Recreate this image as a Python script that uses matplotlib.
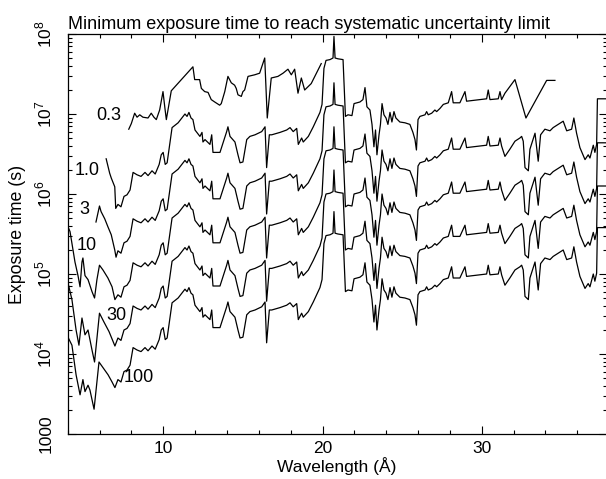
import matplotlib
matplotlib.use("Agg")
import matplotlib.pyplot as plt
import numpy as np
from matplotlib.ticker import MultipleLocator, LogLocator, NullFormatter

plt.rcParams["font.family"] = ["Liberation Sans", "DejaVu Sans"]
plt.rcParams["mathtext.fontset"] = "custom"
plt.rcParams["mathtext.rm"] = "Liberation Sans"
plt.rcParams["font.size"] = 12.5

# Profile shared by the lower curves, given for the "100" curve: log10(exposure time / s)
base_wave = [7.15, 7.34, 7.53, 7.72, 7.91, 8.10, 8.35, 8.60, 8.85, 9.04, 9.29, 9.49, 9.74,
             9.87, 9.99, 10.12, 10.24, 10.55, 10.93, 11.24, 11.36, 11.49, 11.61, 11.74, 11.86,
             11.99, 12.30, 12.43, 12.49, 12.62, 12.93, 13.04, 13.12, 13.56, 13.98, 14.06, 14.19,
             14.50, 14.69, 14.82, 15.00, 15.24, 15.44, 15.76, 16.18, 16.39, 16.49, 16.66, 16.81,
             17.33, 17.75, 17.96, 18.16, 18.38, 18.48, 18.69, 18.79, 19.11, 19.42, 19.84, 19.97,
             20.09, 20.22, 20.47, 20.66, 20.72, 20.79, 20.97, 21.29, 21.44, 21.60, 21.85, 21.98,
             22.35, 22.54, 22.67, 22.79, 22.98, 23.11, 23.23, 23.33, 23.42, 23.55, 23.64, 23.74,
             23.86, 23.99, 24.11, 24.24, 24.36, 24.49, 24.61, 24.86, 25.18, 25.49, 25.68, 25.81,
             25.90, 26.00, 26.12, 26.44, 26.54, 26.64, 26.86, 27.06, 27.17, 27.38, 27.59, 27.90,
             28.11, 28.21, 28.63, 28.95, 29.05, 29.47, 30.31, 30.41, 30.52, 31.04, 31.15, 31.25,
             31.46, 31.77, 32.09, 32.40, 32.51, 32.61, 32.72, 32.93, 33.03, 33.35, 33.55, 33.70,
             33.97, 34.29, 34.49, 35.12, 35.34, 35.65, 35.79, 35.96, 36.17, 36.49, 36.69, 36.80,
             37.01, 37.11, 37.22, 37.27, 37.84]
base_logt = [3.68, 3.65, 3.78, 3.80, 3.86, 4.08, 4.05, 4.03, 4.08, 4.04, 4.10, 4.06, 4.18,
             4.30, 4.33, 4.18, 4.20, 4.64, 4.70, 4.78, 4.81, 4.78, 4.83, 4.76, 4.74,
             4.61, 4.53, 4.58, 4.46, 4.49, 4.43, 4.55, 4.33, 4.33, 4.59, 4.65, 4.53,
             4.46, 4.30, 4.20, 4.21, 4.49, 4.53, 4.55, 4.59, 4.65, 4.14, 4.55, 4.55,
             4.58, 4.61, 4.64, 4.59, 4.63, 4.43, 4.51, 4.46, 4.53, 4.65, 4.83, 4.93,
             5.38, 5.48, 5.49, 5.51, 5.78, 5.51, 5.50, 5.49, 4.78, 4.80, 4.79, 4.94,
             4.96, 4.99, 5.14, 4.90, 4.86, 4.68, 4.40, 4.61, 4.30, 4.55, 4.68, 4.94,
             4.80, 4.76, 4.68, 4.83, 4.71, 4.84, 4.76, 4.71, 4.70, 4.68, 4.58, 4.49,
             4.36, 4.74, 4.78, 4.80, 4.84, 4.80, 4.82, 4.86, 4.84, 4.88, 4.93, 4.95,
             5.09, 4.95, 4.95, 5.09, 4.97, 4.98, 5.00, 5.11, 4.99, 5.00, 5.09, 4.99,
             4.86, 4.95, 5.05, 5.09, 5.11, 5.05, 4.72, 4.68, 4.95, 5.15, 4.80, 5.13,
             5.20, 5.18, 5.22, 5.30, 5.18, 5.20, 5.34, 5.15, 4.97, 4.82, 4.88, 4.84,
             5.00, 4.91, 5.01, 5.58, 5.58]

curve_labels = ["0.3", "1.0", "3", "10", "30", "100"]
# shift of each lower curve above the "100" curve, decades
curve_shift = {"1.0": 2.19, "3": 1.61, "10": 1.06, "30": 0.52, "100": 0.0}

# short-wavelength starts, where the curves differ
head_wave = {
    "1.0": [6.41, 6.63, 6.73, 6.95, 7.01],
    "3": [5.77, 5.99, 6.09, 6.32, 6.52, 6.73, 6.95, 7.03],
    "10": [4.01, 4.14, 4.26, 4.45, 4.64, 4.77, 4.89, 4.95, 5.08, 5.27, 5.39, 5.52, 5.68,
           5.83, 5.99, 6.21, 6.52, 6.78, 6.96],
    "30": [4.01, 4.26, 4.52, 4.70, 4.89, 5.08, 5.27, 5.52, 5.68, 5.99, 6.27, 6.59, 6.96],
    "100": [4.01, 4.26, 4.52, 4.77, 4.95, 5.08, 5.27, 5.39, 5.65, 5.96, 6.21, 6.53, 6.78,
            6.96],
}
head_logt = {
    "1.0": [6.44, 6.26, 6.20, 6.09, 5.82],
    "3": [5.65, 5.85, 5.78, 5.69, 5.59, 5.49, 5.30, 5.21],
    "10": [5.59, 5.53, 5.38, 5.15, 4.98, 4.84, 5.15, 5.20, 4.98, 4.93, 4.86, 4.78, 4.70,
           4.93, 5.11, 5.05, 4.95, 4.84, 4.68],
    "30": [4.89, 4.68, 4.30, 4.11, 4.45, 4.24, 4.30, 4.05, 3.90, 4.51, 4.40, 4.28, 4.10],
    "100": [4.21, 4.11, 3.74, 3.49, 3.68, 3.53, 3.61, 3.55, 3.31, 3.90, 3.83, 3.74, 3.65,
            3.58],
}

# the 1.0 curve stops early; its last part
tail_start_1 = 31.40
tail_wave_1 = [31.46, 32.09, 32.78, 34.08, 34.60]
tail_logt_1 = [7.26, 7.43, 6.95, 7.42, 7.42]

# the 0.3 curve on its own
wave_03 = [7.83, 7.99, 8.20, 8.35, 8.52, 8.72, 9.04, 9.24, 9.41, 9.56, 9.77, 9.98, 10.09,
           10.19, 10.50, 11.86, 11.97, 12.28, 12.39, 12.60, 12.81, 13.01, 13.23, 13.54, 13.64,
           13.86, 14.06, 14.27, 14.48, 14.58, 14.69, 14.90, 15.00, 15.11, 15.32, 15.74, 16.05,
           16.37, 16.53, 16.78, 17.20, 17.52, 17.83, 18.04, 18.25, 18.46, 18.67, 18.88, 19.29,
           19.92]
logt_03 = [6.81, 6.88, 7.01, 6.96, 6.99, 6.96, 6.95, 7.01, 6.96, 6.93, 7.05, 7.28, 7.09,
           6.93, 7.29, 7.59, 7.43, 7.43, 7.32, 7.28, 7.27, 7.18, 7.15, 7.11, 7.13,
           7.28, 7.47, 7.39, 7.36, 7.32, 7.24, 7.22, 7.28, 7.30, 7.47, 7.49, 7.51,
           7.70, 6.95, 7.45, 7.47, 7.51, 7.56, 7.49, 7.56, 7.26, 7.45, 7.30, 7.38,
           7.63]

# where the curve labels sit (wavelength, log10 t)
label_wave = [6.59, 5.24, 5.02, 5.21, 7.03, 8.47]
label_logt = [6.98, 6.29, 5.81, 5.36, 4.48, 3.70]

yticks = [1e3, 1e4, 1e5, 1e6, 1e7, 1e8]
ytick_labels = ["1000", "$10^4$", "$10^5$", "$10^6$", "$10^7$", "$10^8$"]

fig = plt.figure(figsize=(6.06, 4.79), dpi=100)
ax = fig.add_axes([67.8 / 606, 45 / 479, (606.5 - 67.8) / 606, 400 / 479])

ax.plot(wave_03, 10 ** np.array(logt_03), color="black", lw=0.9)
base_wave_arr = np.array(base_wave)
base_logt_arr = np.array(base_logt)
for name, shift in curve_shift.items():
    w = np.concatenate([head_wave[name], base_wave_arr])
    lt = np.concatenate([head_logt[name], base_logt_arr + shift])
    if name == "1.0":
        keep = w < tail_start_1
        w = np.concatenate([w[keep], tail_wave_1])
        lt = np.concatenate([lt[keep], tail_logt_1])
    ax.plot(w, 10 ** lt, color="black", lw=0.9)

for text, lw_, lt_ in zip(curve_labels, label_wave, label_logt):
    ax.text(lw_, 10 ** lt_, text, ha="center", va="center", fontsize=13)

ax.set_yscale("log")
ax.set_xlim(4, 37.84)
ax.set_ylim(1e3, 1e8)
ax.xaxis.set_major_locator(MultipleLocator(10))
ax.xaxis.set_minor_locator(MultipleLocator(2))
ax.yaxis.set_minor_locator(LogLocator(base=10, subs=np.arange(2, 10)))
ax.yaxis.set_minor_formatter(NullFormatter())
ax.set_yticks(yticks, ytick_labels, rotation=90, va="center")
ax.tick_params(which="both", direction="in", top=True, right=True, width=0.8, labelsize=12.5)
ax.tick_params(which="major", length=5.5)
ax.tick_params(which="minor", length=2.8)
ax.tick_params(axis="x", pad=5)
ax.tick_params(axis="y", pad=10)
for s in ax.spines.values():
    s.set_linewidth(0.9)

ax.set_title("Minimum exposure time to reach systematic uncertainty limit",
             loc="left", pad=3.5, fontsize=13)
ax.set_xlabel("Wavelength (Å)", labelpad=0.5, fontsize=12.5)
ax.set_ylabel("Exposure time (s)", labelpad=5, fontsize=12.8)

fig.savefig("out.png", dpi=100)
